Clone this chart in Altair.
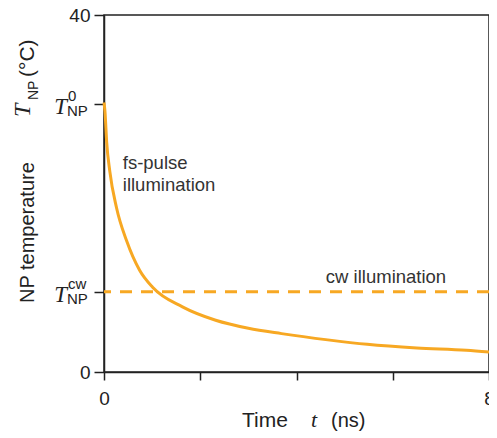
import altair as alt
import pandas as pd

# ---- data ----
time_ns = [0, 0.02, 0.055, 0.12, 0.26, 0.47, 0.74, 1.01, 1.63, 2.32, 3.0, 3.69, 4.65, 5.47, 6.5, 7.53, 8.0]
temp_np = [30.2, 29.2, 25.8, 22.5, 18.4, 14.7, 11.4, 9.5, 7.3, 5.8, 4.9, 4.3, 3.6, 3.1, 2.7, 2.45, 2.25]
T0_value = 30
Tcw_value = 9
x_ticks = [0, 2, 4, 6, 8]
y_ticks = [0, Tcw_value, T0_value, 40]
tick_sup = ["0", "cw"]
annot_text = ["fs-pulse", "illumination", "cw illumination"]
annot_t = [0.39, 0.39, 4.61]
annot_T = [22.7, 20.3, 9.92]

ORANGE = "#F7A823"
INK = "#222222"
SANS = "Liberation Sans"
SERIF = "Liberation Serif"

curve = pd.DataFrame({"t": time_ns, "T": temp_np})
cw = pd.DataFrame({"T": [Tcw_value]})
ticklab = pd.DataFrame({"v": [T0_value, Tcw_value], "sup": tick_sup})
annot = pd.DataFrame({"t": annot_t, "T": annot_T, "txt": annot_text})
dummy = pd.DataFrame({"a": [0]})

xscale = alt.Scale(domain=[0, 8], nice=False, zero=False)
yscale = alt.Scale(domain=[0, 40], nice=False)

xaxis = alt.Axis(values=x_ticks, title=None, grid=False, tickSize=8,
                 labelExpr="datum.value % 8 == 0 ? datum.label : ''",
                 labelFontSize=19, labelFont=SANS, labelColor=INK, labelPadding=9,
                 labelFlush=False, domainColor=INK, tickColor=INK,
                 domainWidth=1.5, tickWidth=1.5)
yaxis = alt.Axis(values=y_ticks, title=None, grid=False, tickSize=10,
                 labelExpr="datum.value == 0 || datum.value == 40 ? datum.label : ''",
                 labelFontSize=19, labelFont=SANS, labelColor=INK, labelPadding=4,
                 labelFlush=False, domainColor=INK, tickColor=INK,
                 domainWidth=1.5, tickWidth=1.5)

line = alt.Chart(curve).mark_line(color=ORANGE, strokeWidth=3, interpolate="monotone").encode(
    x=alt.X("t:Q", scale=xscale, axis=xaxis),
    y=alt.Y("T:Q", scale=yscale, axis=yaxis),
)

dashed = alt.Chart(cw).mark_rule(color=ORANGE, strokeWidth=3, strokeDash=[12, 9]).encode(
    y=alt.Y("T:Q", scale=yscale, axis=yaxis)
)

# tick labels T_NP^0 and T_NP^cw
tl_T = alt.Chart(ticklab).mark_text(text="T", font=SERIF, fontStyle="italic", fontSize=23,
                                    align="right", baseline="alphabetic", dy=10, color=INK).encode(
    x=alt.value(-37), y=alt.Y("v:Q", scale=yscale, axis=yaxis))
tl_NP = alt.Chart(ticklab).mark_text(text="NP", font=SANS, fontSize=15,
                                     align="left", baseline="alphabetic", dy=12, color=INK).encode(
    x=alt.value(-37), y=alt.Y("v:Q", scale=yscale, axis=yaxis))
tl_sup = alt.Chart(ticklab).mark_text(font=SANS, fontSize=15,
                                      align="left", baseline="alphabetic", dy=-3, color=INK).encode(
    x=alt.value(-36), y=alt.Y("v:Q", scale=yscale, axis=yaxis), text="sup:N")


def piece(txt, px, py, size=20, font=SANS, style="normal", angle=0):
    kw = dict(text=txt, font=font, fontSize=size, fontStyle=style, align="left",
              baseline="alphabetic", color=INK)
    if angle:
        kw["angle"] = angle
    return alt.Chart(dummy).mark_text(**kw).encode(x=alt.value(px), y=alt.value(py))


# y axis title: NP temperature T_NP (°C)
ytitle = [
    piece("NP temperature", -70, 288, 20, angle=270),
    piece("T", -74, 102, 24, SERIF, "italic", angle=270),
    piece("NP", -66, 85, 14, angle=270),
    piece("(°C)", -70, 62, 21, angle=270),
]
# x axis title: Time t (ns)
xtitle = [
    piece("Time", 138, 412, 21),
    piece("t", 207, 412, 22, SERIF, "italic"),
    piece("(ns)", 227, 412, 20),
]

annots = alt.Chart(annot).mark_text(font=SANS, fontSize=18.5, align="left",
                                    baseline="alphabetic", color="#333333").encode(
    x=alt.X("t:Q", scale=xscale, axis=xaxis),
    y=alt.Y("T:Q", scale=yscale, axis=yaxis),
    text="txt:N")

chart = alt.layer(line, dashed, tl_T, tl_NP, tl_sup, annots, *ytitle, *xtitle).properties(
    width=385, height=357,
    autosize=alt.AutoSizeParams(type="none"),
    padding={"left": 96, "top": 7, "right": 0, "bottom": 60},
).configure_view(stroke=INK, strokeWidth=1.5)

chart.save("out.html", embed_options={"renderer": "svg", "actions": False})
